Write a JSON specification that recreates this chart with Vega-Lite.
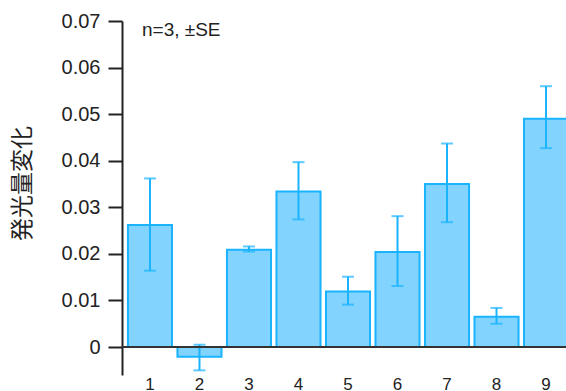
{
  "$schema": "https://vega.github.io/schema/vega-lite/v6.json",
  "autosize": "none",
  "padding": {"left": 122, "top": 21, "right": 0, "bottom": 16},
  "width": 452,
  "height": 354,
  "background": "white",
  "config": {
    "view": {"stroke": null},
    "font": "Liberation Sans"
  },
  "data": {
    "values": [
      {"g": "1", "mean": 0.0262, "lo": 0.0164, "hi": 0.0362},
      {"g": "2", "mean": -0.0021, "lo": -0.0050, "hi": 0.0005},
      {"g": "3", "mean": 0.0209, "lo": 0.0205, "hi": 0.0216},
      {"g": "4", "mean": 0.0334, "lo": 0.0274, "hi": 0.0397},
      {"g": "5", "mean": 0.0119, "lo": 0.0091, "hi": 0.0151},
      {"g": "6", "mean": 0.0204, "lo": 0.0131, "hi": 0.0281},
      {"g": "7", "mean": 0.0350, "lo": 0.0268, "hi": 0.0437},
      {"g": "8", "mean": 0.0065, "lo": 0.0050, "hi": 0.0084},
      {"g": "9", "mean": 0.0490, "lo": 0.0427, "hi": 0.0560}
    ]
  },
  "encoding": {
    "x": {
      "field": "g", "type": "nominal", "sort": null,
      "scale": {"paddingInner": 0.11, "paddingOuter": 0.12},
      "axis": {
        "title": null, "labelAngle": 0, "domain": false, "ticks": false,
        "labelFontSize": 17, "labelColor": "#222", "labelPadding": 1, "labelDx": -2
      }
    }
  },
  "layer": [
    {
      "mark": {"type": "bar", "fill": "#82d4fe", "stroke": "#1ab3ff", "strokeWidth": 2},
      "encoding": {
        "y": {
          "field": "mean", "type": "quantitative",
          "scale": {"domain": [-0.006, 0.07], "nice": false, "zero": false},
          "axis": {
            "values": [0, 0.01, 0.02, 0.03, 0.04, 0.05, 0.06, 0.07],
            "labelExpr": "datum.value === 0 ? '0' : format(datum.value, '.2f')",
            "grid": false,
            "domainColor": "#222", "domainWidth": 2,
            "tickColor": "#222", "tickWidth": 2, "tickSize": 14,
            "labelFontSize": 20, "labelColor": "#222", "labelPadding": 8,
            "title": "発光量変化",
            "titleFont": "Noto Sans CJK JP", "titleFontSize": 23, "titleFontWeight": "normal",
            "titleColor": "#222", "titleAngle": -90,
            "titleX": -100, "titleY": 162, "titleAlign": "center", "titleBaseline": "middle"
          }
        }
      }
    },
    {
      "mark": {"type": "rule", "color": "#1ab3ff", "strokeWidth": 2},
      "encoding": {
        "y": {"field": "lo", "type": "quantitative"},
        "y2": {"field": "hi"}
      }
    },
    {
      "mark": {"type": "tick", "color": "#1ab3ff", "thickness": 2, "size": 12, "orient": "horizontal"},
      "encoding": {"y": {"field": "lo", "type": "quantitative"}}
    },
    {
      "mark": {"type": "tick", "color": "#1ab3ff", "thickness": 2, "size": 12, "orient": "horizontal"},
      "encoding": {"y": {"field": "hi", "type": "quantitative"}}
    },
    {
      "data": {"values": [{"v": 0}]},
      "mark": {"type": "rule", "color": "#333", "strokeWidth": 2},
      "encoding": {"x": null, "y": {"field": "v", "type": "quantitative"}}
    },
    {
      "data": {"values": [{"g": "1", "v": 0.0667, "label": "n=3, ±SE"}]},
      "mark": {"type": "text", "align": "left", "baseline": "alphabetic", "dx": -8, "fontSize": 19, "color": "#222"},
      "encoding": {
        "x": {"field": "g", "type": "nominal", "sort": null},
        "y": {"field": "v", "type": "quantitative"},
        "text": {"field": "label"}
      }
    }
  ]
}
